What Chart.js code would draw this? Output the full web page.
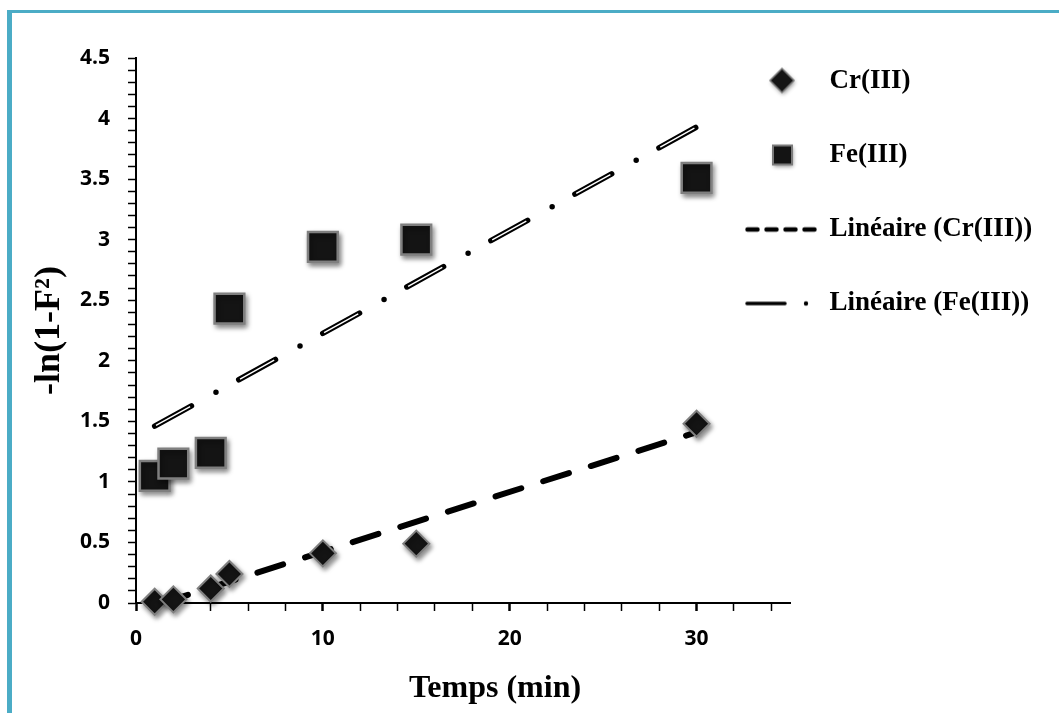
<!DOCTYPE html>
<html lang="fr">
<head>
<meta charset="utf-8">
<title>-ln(1-F²) en fonction du temps</title>
<script src="https://cdn.jsdelivr.net/npm/chart.js@4.4.1/dist/chart.umd.min.js"></script>
<style>
  html, body { margin: 0; padding: 0; background: #fff; }
  /* cadre bleu : seulement à gauche et en haut */
  #cadre {
    position: absolute; left: 7px; top: 10px;
    width: 1047px; height: 700px;
    border-left: 5px solid #4bacc6;
    border-top: 3px solid #4bacc6;
  }
  #cadre canvas { display: block; }
</style>
</head>
<body>
<div id="cadre"><canvas id="cinetique" width="1047" height="700"></canvas></div>
<script>
// ─── Données ────────────────────────────────────────
const tempsMin   = [1, 2, 4, 5, 10, 15, 30];
const valeursCr  = [0.01, 0.03, 0.12, 0.24, 0.41, 0.49, 1.48];
const valeursFe  = [1.05, 1.15, 1.24, 2.43, 2.94, 3.00, 3.51];

// droites de tendance (extrémités)
const tendanceCrX = [1.4, 30];
const tendanceCrY = [0, 1.41];
const tendanceFeX = [1, 30];
const tendanceFeY = [1.46, 3.93];

// graduations avec étiquette
const etiquettesX = [0, 10, 20, 30];
const etiquettesY = [0, 0.5, 1, 1.5, 2, 2.5, 3, 3.5, 4, 4.5];

const points = (xs, ys) => xs.map((x, i) => ({ x, y: ys[i] }));

// ─── Icônes de la légende ───────────────────────────
function icone(w, h, trace) {
  const c = document.createElement('canvas');
  c.width = w; c.height = h;
  trace(c.getContext('2d'));
  return c;
}
function ombre(g) {
  g.shadowColor = 'rgba(0,0,0,0.45)';
  g.shadowBlur = 4; g.shadowOffsetX = 1; g.shadowOffsetY = 2;
}
const iconeLosange = icone(34, 34, (g) => {
  ombre(g);
  g.beginPath();
  g.moveTo(16, 4); g.lineTo(28, 16); g.lineTo(16, 28); g.lineTo(4, 16);
  g.closePath();
  g.fillStyle = '#141414'; g.fill();
  g.shadowColor = 'transparent';
  g.lineWidth = 1.5; g.strokeStyle = '#7a7a7a'; g.stroke();
});
const iconeCarre = icone(34, 34, (g) => {
  ombre(g);
  g.fillStyle = '#141414';
  g.fillRect(7, 7, 19, 19);
  g.shadowColor = 'transparent';
  g.lineWidth = 2; g.strokeStyle = '#7a7a7a';
  g.strokeRect(7, 7, 19, 19);
});
const iconeTiretsCr = icone(76, 10, (g) => {
  g.strokeStyle = '#000'; g.lineWidth = 4.5; g.lineCap = 'round';
  g.setLineDash([10, 9]);
  g.beginPath(); g.moveTo(2.5, 5); g.lineTo(74, 5); g.stroke();
});
const iconeTiretPointFe = icone(76, 10, (g) => {
  g.strokeStyle = '#000'; g.lineWidth = 3.5; g.lineCap = 'round';
  g.beginPath(); g.moveTo(2, 5); g.lineTo(40, 5); g.stroke();
  g.beginPath(); g.arc(61, 5, 2.2, 0, Math.PI * 2); g.fillStyle = '#000'; g.fill();
});

// ─── Plugins ────────────────────────────────────────
// ombre portée sous les marqueurs
const ombreMarqueurs = {
  id: 'ombreMarqueurs',
  beforeDatasetDraw(chart, args) {
    if (!chart.data.datasets[args.index].ombre) return;
    const ctx = chart.ctx;
    ctx.save();
    ctx.shadowColor = 'rgba(0,0,0,0.45)';
    ctx.shadowBlur = 5;
    ctx.shadowOffsetX = 2;
    ctx.shadowOffsetY = 3;
  },
  afterDatasetDraw(chart, args) {
    if (chart.data.datasets[args.index].ombre) chart.ctx.restore();
  },
};

// la légende Excel déborde sur la zone de tracé
const placeLegende = {
  id: 'placeLegende',
  afterLayout(chart) {
    const lg = chart.legend;
    lg.left = 691; lg.right = chart.width;
    lg.top = 8; lg.bottom = chart.height;
  },
};

const noir = '#000';
const policeTicks = { family: '"Open Sans", "Liberation Sans", sans-serif', size: 21, weight: 'bold' };
const policeSerif = (size) => ({ family: '"Liberation Serif", "Times New Roman", serif', size, weight: 'bold' });

new Chart(document.getElementById('cinetique'), {
  type: 'scatter',
  data: {
    datasets: [
      {
        label: 'Cr(III)',
        data: points(tempsMin, valeursCr),
        pointStyle: 'rectRot',
        pointRadius: 13,
        backgroundColor: '#141414',
        borderColor: '#7f7f7f',
        borderWidth: 2,
        clip: false,
        ombre: true,
        icone: iconeLosange,
      },
      {
        label: 'Fe(III)',
        data: points(tempsMin, valeursFe),
        pointStyle: 'rect',
        pointRadius: 21,
        backgroundColor: '#141414',
        borderColor: '#7f7f7f',
        borderWidth: 2.5,
        clip: false,
        ombre: true,
        icone: iconeCarre,
      },
      {
        label: 'Linéaire (Cr(III))',
        data: points(tendanceCrX, tendanceCrY),
        showLine: true,
        pointRadius: 0,
        borderColor: noir,
        borderWidth: 6,
        borderDash: [27, 23],
        borderCapStyle: 'round',
        icone: iconeTiretsCr,
      },
      {
        // filet blanc au centre des tirets (trait "double")
        data: points(tendanceFeX, tendanceFeY),
        showLine: true,
        pointRadius: 0,
        borderColor: '#fff',
        borderWidth: 1.4,
        borderDash: [39, 57],
        borderDashOffset: -1.5,
      },
      {
        label: 'Linéaire (Fe(III))',
        data: points(tendanceFeX, tendanceFeY),
        showLine: true,
        pointRadius: 0,
        borderColor: noir,
        borderWidth: 5.5,
        borderDash: [42, 28, 0, 26],
        borderCapStyle: 'round',
        icone: iconeTiretPointFe,
      },
    ],
  },
  options: {
    responsive: false,
    animation: false,
    events: [],
    layout: { padding: { left: 10, right: 19, top: 45, bottom: 7 } },
    plugins: {
      tooltip: { enabled: false },
      legend: {
        position: 'right',
        align: 'start',
        maxWidth: 250,
        labels: {
          usePointStyle: true,
          pointStyleWidth: 66,
          padding: 47,
          color: noir,
          font: policeSerif(27),
          generateLabels: (chart) => chart.data.datasets
            .map((ds, i) => ({ ds, i }))
            .filter(({ ds }) => ds.icone)
            .map(({ ds, i }) => ({
              text: ds.label,
              pointStyle: ds.icone,
              datasetIndex: i,
              fillStyle: 'transparent',
              strokeStyle: 'transparent',
              lineWidth: 0,
              hidden: false,
              fontColor: noir,
            })),
        },
      },
    },
    scales: {
      x: {
        type: 'linear',
        min: 0, max: 35,
        bounds: 'data',
        afterFit: (s) => { s.height = 103; },
        border: { color: noir, width: 2 },
        grid: {
          drawOnChartArea: false,
          tickLength: 8,
          tickColor: (c) => (c.tick && c.tick.value > 34.5 ? 'transparent' : noir),
          tickWidth: (c) => (c.tick && etiquettesX.includes(c.tick.value) ? 2.5 : 1.5),
        },
        ticks: {
          stepSize: 2,
          autoSkip: false,
          maxRotation: 0,
          padding: 15,
          color: noir,
          font: policeTicks,
          callback: (v) => (etiquettesX.includes(v) ? String(v) : ''),
        },
        title: {
          display: true,
          text: '\u2003\u2003Temps (min)',
          color: noir,
          font: policeSerif(32),
          padding: { top: 0, bottom: -2 },
        },
      },
      y: {
        type: 'linear',
        min: 0, max: 4.5,
        afterFit: (s) => { s.width = 114; },
        border: { color: noir, width: 2 },
        grid: {
          drawOnChartArea: false,
          tickLength: 8,
          tickColor: noir,
          tickWidth: 1.5,
        },
        ticks: {
          stepSize: 0.1,
          autoSkip: false,
          padding: 18,
          color: noir,
          font: policeTicks,
          callback: (v) => {
            const r = Math.round(v * 10) / 10;
            return etiquettesY.includes(r) ? String(r) : '';
          },
        },
        title: {
          display: true,
          text: '-ln(1-F²)',
          color: noir,
          font: policeSerif(36),
          padding: { top: 6, bottom: 0 },
        },
      },
    },
  },
  plugins: [ombreMarqueurs, placeLegende],
});
</script>
</body>
</html>
